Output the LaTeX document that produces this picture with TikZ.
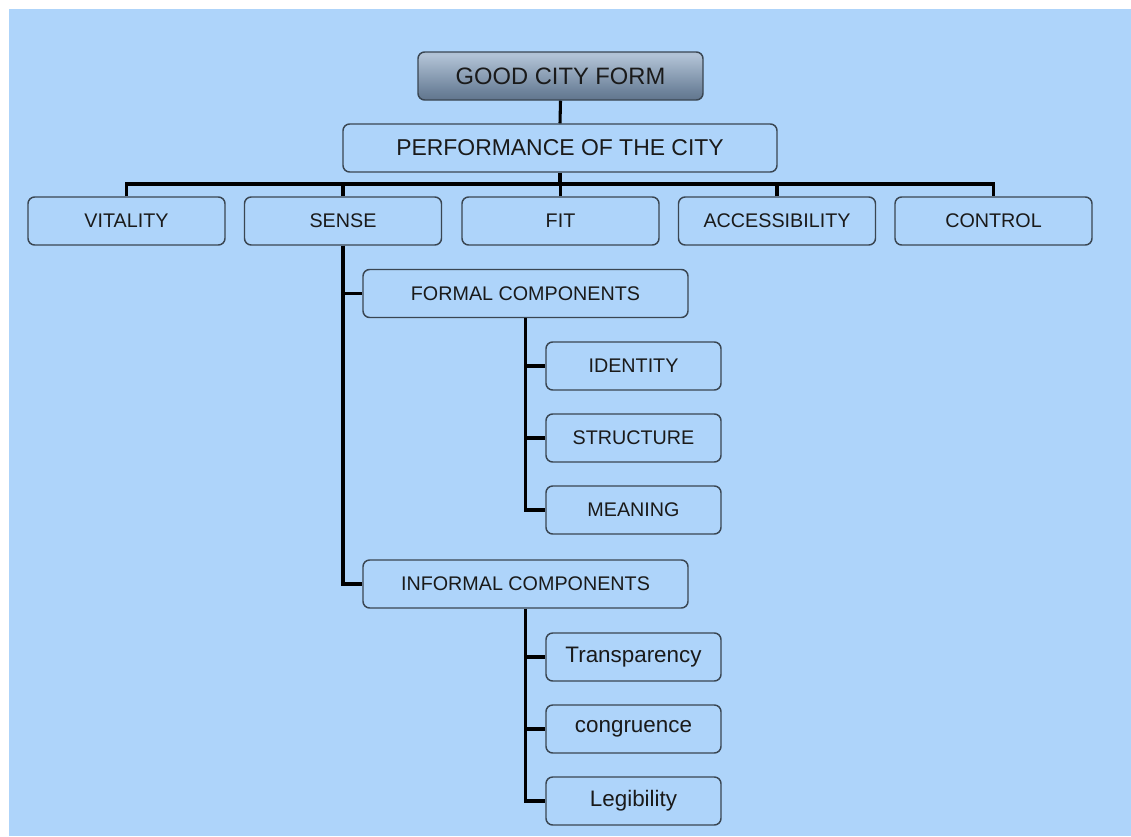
\documentclass[tikz,border=0pt]{standalone}
\usepackage{fontspec}
\setmainfont{Liberation Sans}
\definecolor{sky}{HTML}{AED4FA}
\definecolor{rim}{HTML}{3A4652}
\definecolor{ink}{HTML}{1A1A1A}
\definecolor{steelA}{HTML}{3F5168}
\definecolor{steelB}{HTML}{6F849C}
\definecolor{steelC}{HTML}{B2C3D6}
\definecolor{steelD}{HTML}{9FB1C6}
\definecolor{steelE}{HTML}{71869E}
\pgfdeclareverticalshading{steel}{100bp}{
  color(0bp)=(steelA);
  color(35bp)=(steelB);
  color(72bp)=(steelC);
  color(88bp)=(steelD);
  color(100bp)=(steelE)}
\tikzset{
  box/.style={draw=rim, line width=1.1pt, rounded corners=5pt, text=ink,
    minimum height=36pt, inner sep=0pt, font=\fontsize{14.8}{16}\selectfont},
  topbox/.style={box, shading=steel, minimum width=213.75pt,
    font=\fontsize{17.8}{20}\selectfont},
  wide/.style={box, minimum width=325.5pt, font=\fontsize{17.2}{19}\selectfont},
  mid/.style={box, minimum width=147.75pt},
  comp/.style={box, minimum width=243.75pt},
  leaf/.style={box, minimum width=131.25pt},
  lowleaf/.style={leaf, font=\fontsize{16.8}{19}\selectfont},
  link/.style={draw=black, line width=2.3pt}
}
\begin{document}
\begin{tikzpicture}[x=0.75pt, y=-0.75pt]
  \useasboundingbox (0,0) rectangle (1131,836);
  \fill[white] (0,0) rectangle (1131,836);
  \fill[sky] (9,9) rectangle (1131,836);

  % root and first level
  \node[topbox] (good) at (560.5,76) {GOOD CITY FORM};
  \node[wide] (perf) at (560,148) {PERFORMANCE OF THE CITY};

  % five performance dimensions
  \node[mid] (vit) at (126.5,221) {VITALITY};
  \node[mid] (sense) at (343,221) {SENSE};
  \node[mid] (fit) at (560.5,221) {FIT};
  \node[mid] (acc) at (777,221) {ACCESSIBILITY};
  \node[mid] (ctl) at (993.5,221) {CONTROL};
  \coordinate (bar) at (560,184);

  % components of sense
  \node[comp] (formal) at (525.5,293.5) {FORMAL COMPONENTS};
  \node[comp] (informal) at (525.5,584) {INFORMAL COMPONENTS};

  \node[leaf] (ident) at (633.5,366) {IDENTITY};
  \node[leaf] (struct) at (633.5,438) {STRUCTURE};
  \node[leaf] (mean) at (633.5,510) {MEANING};

  \node[lowleaf] (transp) at (633.5,657) {Transparency};
  \node[lowleaf] (congr) at (633.5,729) {congruence};
  \node[lowleaf] (legib) at (633.5,801) {Legibility};

  % connectors
  \draw[link] (good.south) -- (perf.north);
  \draw[link] (perf.south) -- (bar);
  \draw[link] (vit.north) -- (vit.north |- bar) -- (ctl.north |- bar) -- (ctl.north);
  \draw[link] (sense.north) -- (sense.north |- bar);
  \draw[link] (fit.north) -- (fit.north |- bar);
  \draw[link] (acc.north) -- (acc.north |- bar);

  \draw[link] (sense.south) |- (formal.west);
  \draw[link] (sense.south) |- (informal.west);

  \draw[link] (formal.south) |- (mean.west);
  \draw[link] (formal.south |- ident.west) -- (ident.west);
  \draw[link] (formal.south |- struct.west) -- (struct.west);

  \draw[link] (informal.south) |- (legib.west);
  \draw[link] (informal.south |- transp.west) -- (transp.west);
  \draw[link] (informal.south |- congr.west) -- (congr.west);
\end{tikzpicture}
\end{document}
